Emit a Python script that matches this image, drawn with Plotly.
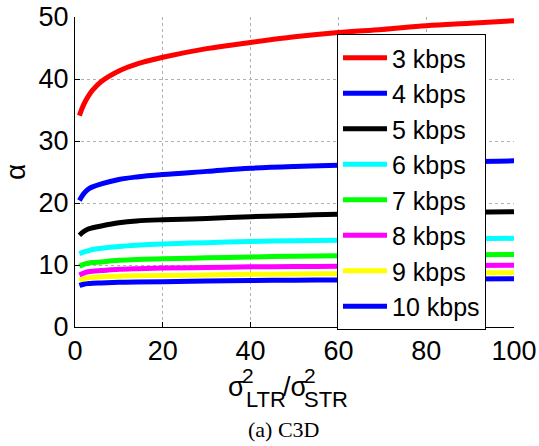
import plotly.graph_objects as go

ratio = [1, 2, 3, 4, 6, 10, 14, 20, 30, 40, 50, 60, 70, 80, 90, 100]

alpha_3k = [34.1, 35.9, 37.2, 38.2, 39.6, 41.3, 42.4, 43.5, 44.9, 45.9, 46.8, 47.5, 48.0, 48.6, 49.0, 49.4]
alpha_4k = [20.4, 21.5, 22.2, 22.6, 23.1, 23.8, 24.2, 24.6, 25.1, 25.6, 25.9, 26.1, 26.3, 26.5, 26.7, 26.8]
alpha_5k = [14.8, 15.4, 15.8, 16.0, 16.3, 16.8, 17.1, 17.3, 17.5, 17.8, 18.0, 18.2, 18.3, 18.4, 18.5, 18.6]
alpha_6k = [11.8, 12.1, 12.3, 12.5, 12.7, 13.0, 13.2, 13.4, 13.6, 13.8, 13.9, 14.0, 14.1, 14.2, 14.25, 14.3]
alpha_7k = [9.8, 10.1, 10.3, 10.4, 10.5, 10.75, 10.9, 11.0, 11.15, 11.3, 11.4, 11.5, 11.55, 11.6, 11.65, 11.7]
alpha_8k = [8.4, 8.7, 8.9, 9.0, 9.1, 9.3, 9.4, 9.5, 9.6, 9.7, 9.75, 9.8, 9.85, 9.9, 9.93, 9.95]
alpha_9k = [7.5, 7.8, 7.95, 8.0, 8.1, 8.2, 8.25, 8.3, 8.4, 8.5, 8.55, 8.6, 8.65, 8.7, 8.73, 8.76]
alpha_10k = [6.7, 6.9, 7.0, 7.05, 7.1, 7.2, 7.25, 7.3, 7.4, 7.5, 7.55, 7.6, 7.65, 7.7, 7.75, 7.8]

series_names = ["3 kbps", "4 kbps", "5 kbps", "6 kbps", "7 kbps", "8 kbps", "9 kbps", "10 kbps"]
series_values = [alpha_3k, alpha_4k, alpha_5k, alpha_6k, alpha_7k, alpha_8k, alpha_9k, alpha_10k]
series_colors = ["#FF0000", "#0000FF", "#000000", "#00FFFF", "#00FF00", "#FF00FF", "#FFFF00", "#0000FF"]

x_ticks = [0, 20, 40, 60, 80, 100]
y_ticks = [0, 10, 20, 30, 40, 50]

FONT = "Liberation Sans, Arial, sans-serif"

fig = go.Figure()
for name, vals, col in zip(series_names, series_values, series_colors):
    fig.add_trace(go.Scatter(x=ratio, y=vals, mode="lines", name=name,
                             line=dict(color=col, width=5, shape="spline")))

W, H = 539, 446
L, R, T, B = 75, 25, 17, 119
PW, PH = W - L - R, H - T - B


def px(x):
    return (x - L) / PW


def py(y):
    return (H - B - y) / PH


grid = dict(showgrid=True, gridcolor="#b0b0b0", griddash="dot", gridwidth=1)

fig.update_layout(
    width=W, height=H,
    margin=dict(l=L, r=R, t=T, b=B, autoexpand=False),
    paper_bgcolor="white", plot_bgcolor="white",
    font=dict(family=FONT, size=27, color="black"),
    showlegend=True,
    legend=dict(x=px(337), y=py(34), xanchor="left", yanchor="top",
                bgcolor="white", bordercolor="black", borderwidth=1,
                font=dict(family=FONT, size=25, color="black"),
                tracegroupgap=0, itemwidth=44, maxheight=440),
    xaxis=dict(range=[0, 100], tickvals=x_ticks, ticks="inside", ticklen=5,
               tickcolor="black", showline=True, linecolor="black", linewidth=1,
               zeroline=False, tickfont=dict(size=27), automargin=False, **grid),
    yaxis=dict(range=[0, 50], tickvals=y_ticks, ticks="inside", ticklen=5,
               tickcolor="black", showline=True, linecolor="black", linewidth=1,
               zeroline=False, tickfont=dict(size=27), automargin=False,
               title=dict(text="α", font=dict(size=28), standoff=4), **grid),
)

ann = []


def add(text, x, y, size, family=FONT):
    ann.append(dict(text=text, x=px(x), y=py(y), xref="paper", yref="paper",
                    xanchor="left", yanchor="middle", showarrow=False,
                    borderpad=0, font=dict(family=family, size=size, color="black")))


add("σ", 227, 387, 27)
add("2", 240.5, 376, 21)
add("LTR", 244.5, 400, 22)
add("/σ", 282, 387, 27)
add("2", 302.5, 376, 21)
add("STR", 302.5, 400, 22)
ann.append(dict(text="(a) C3D", x=px(283), y=py(429), xref="paper", yref="paper",
                xanchor="center", yanchor="middle", showarrow=False,
                font=dict(family="Liberation Serif, Times New Roman, serif", size=22, color="black")))
fig.update_layout(annotations=ann)

fig.write_html("out.html", config={"displayModeBar": False},
               post_script="document.body.style.margin='0';document.body.style.padding='0';")
